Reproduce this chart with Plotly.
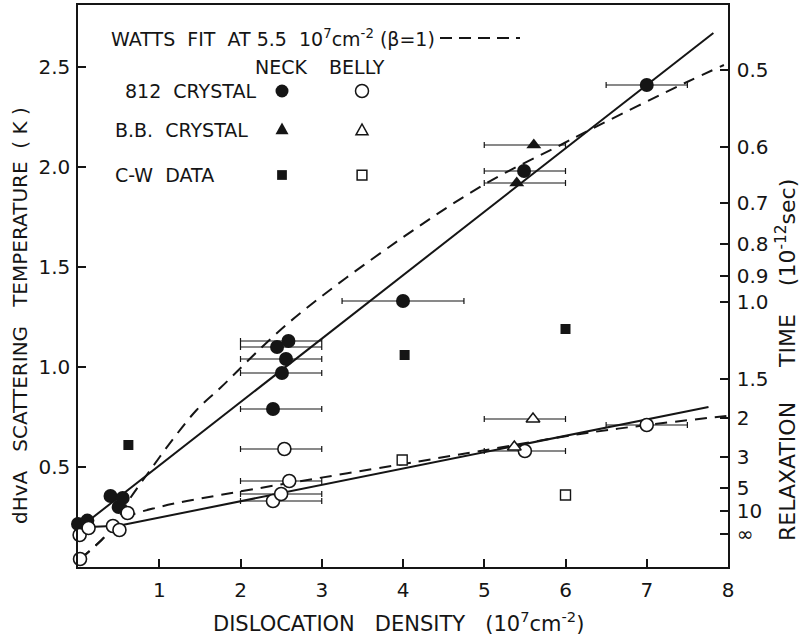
import plotly.graph_objects as go

# ---------------- data ----------------
# 812 crystal, neck (filled circles)
neck812_x = [-0.06, 0.0, 0.115, 0.40, 0.50, 0.55, 2.40, 2.51, 2.56, 2.45, 2.59, 4.0, 5.49, 7.0]
neck812_T = [0.143, 0.215, 0.232, 0.355, 0.30, 0.345, 0.79, 0.97, 1.04, 1.10, 1.13, 1.33, 1.98, 2.41]
neck812_lo = [None, None, None, None, None, None, 2.0, 2.0, 2.0, 2.0, 2.0, 3.25, 5.0, 6.5]
neck812_hi = [None, None, None, None, None, None, 3.0, 3.0, 3.0, 3.0, 3.0, 4.75, 6.0, 7.5]

# 812 crystal, belly (open circles)
belly812_x = [0.025, 0.02, 0.13, 0.43, 0.51, 0.61, 2.40, 2.50, 2.60, 2.54, 5.50, 7.0]
belly812_T = [0.04, 0.16, 0.195, 0.205, 0.185, 0.27, 0.33, 0.365, 0.43, 0.59, 0.58, 0.71]
belly812_lo = [None, None, None, None, None, None, 2.0, 2.0, 2.0, 2.0, 5.0, 6.5]
belly812_hi = [None, None, None, None, None, None, 3.0, 3.0, 3.0, 3.0, 6.0, 7.5]

# B.B. crystal
neckBB_x = [5.40, 5.61]
neckBB_T = [1.92, 2.11]
neckBB_lo = [5.0, 5.0]
neckBB_hi = [6.0, 6.0]
bellyBB_x = [5.37, 5.60]
bellyBB_T = [0.60, 0.74]
bellyBB_lo = [None, 5.0]
bellyBB_hi = [None, 6.0]

# C-W data
neckCW_x = [0.62, 4.02, 6.0]
neckCW_T = [0.61, 1.06, 1.19]
bellyCW_x = [3.99, 6.0]
bellyCW_T = [0.535, 0.36]

# straight-line fits (solid)
fit_neck_x = [0.0, 7.82]
fit_neck_T = [0.19, 2.67]
fit_belly_x = [0.13, 0.5, 7.76]
fit_belly_T = [0.20, 0.206, 0.80]

# Watts fits (dashed)
watts_neck_x = [0.03, 0.29, 0.45, 0.62, 0.89, 1.17, 1.46, 1.75, 2.61, 3.97, 5.03, 5.94, 6.27, 7.47, 7.95]
watts_neck_T = [0.04, 0.135, 0.21, 0.33, 0.485, 0.64, 0.785, 0.895, 1.227, 1.64, 1.92, 2.11, 2.18, 2.42, 2.51]
watts_belly_x = [0.03, 0.29, 0.45, 0.6, 1.0, 1.34, 1.75, 2.6, 3.93, 4.95, 6.18, 7.0, 7.98]
watts_belly_T = [0.04, 0.135, 0.20, 0.25, 0.30, 0.33, 0.36, 0.42, 0.51, 0.58, 0.665, 0.71, 0.755]

# axes
x_ticks = [1, 2, 3, 4, 5, 6, 7, 8]
T_ticks = [0.5, 1.0, 1.5, 2.0, 2.5]
T_tick_text = ["0.5", "1.0", "1.5", "2.0", "2.5"]
tau_ticks = [0.5, 0.6, 0.7, 0.8, 0.9, 1.0, 1.5, 2, 3, 5, 10, float("inf")]
tau_tick_text = ["0.5", "0.6", "0.7", "0.8", "0.9", "1.0", "1.5", "2", "3", "5", "10", "∞"]
T_residual = 0.165   # K, temperature at infinite relaxation time
T_tau_const = 1.16   # K * 1e-12 s

# ---------------- figure ----------------
INK = "#151515"
FONT = "DejaVu Sans"
W, H = 802, 639
L, R, TOP, B = 78, 74, 5, 72
PW, PH = W - L - R, H - TOP - B


def px(xp):
    return (xp - L) / PW


def py(yp):
    return (H - B - yp) / PH


def bars(xs, lo, hi):
    plus = [(h - x) if h is not None else 0 for x, h in zip(xs, hi)]
    minus = [(x - l) if l is not None else 0 for x, l in zip(xs, lo)]
    return dict(type="data", symmetric=False, array=plus, arrayminus=minus,
                thickness=1.2, width=3, color=INK)


fig = go.Figure()

line_kw = dict(mode="lines", hoverinfo="skip", showlegend=False)
fig.add_trace(go.Scatter(x=fit_neck_x, y=fit_neck_T, line=dict(color=INK, width=2), **line_kw))
fig.add_trace(go.Scatter(x=fit_belly_x, y=fit_belly_T, line=dict(color=INK, width=2), **line_kw))
fig.add_trace(go.Scatter(x=watts_neck_x, y=watts_neck_T, line=dict(color=INK, width=2, dash="12px,8px", shape="spline"), **line_kw))
fig.add_trace(go.Scatter(x=watts_belly_x, y=watts_belly_T, line=dict(color=INK, width=2, dash="12px,8px", shape="spline"), **line_kw))

pt_kw = dict(mode="markers", showlegend=False, cliponaxis=False)
fig.add_trace(go.Scatter(x=neck812_x, y=neck812_T, error_x=bars(neck812_x, neck812_lo, neck812_hi),
                         marker=dict(symbol="circle", size=14, color=INK, line=dict(width=0)), **pt_kw))
fig.add_trace(go.Scatter(x=belly812_x, y=belly812_T, error_x=bars(belly812_x, belly812_lo, belly812_hi),
                         marker=dict(symbol="circle", size=13, color="white", line=dict(width=1.6, color=INK)), **pt_kw))
fig.add_trace(go.Scatter(x=neckBB_x, y=neckBB_T, error_x=bars(neckBB_x, neckBB_lo, neckBB_hi),
                         marker=dict(symbol="triangle-up", size=13, color=INK, line=dict(width=0)), **pt_kw))
fig.add_trace(go.Scatter(x=bellyBB_x, y=bellyBB_T, error_x=bars(bellyBB_x, bellyBB_lo, bellyBB_hi),
                         marker=dict(symbol="triangle-up", size=12, color="white", line=dict(width=1.5, color=INK)), **pt_kw))
fig.add_trace(go.Scatter(x=neckCW_x, y=neckCW_T,
                         marker=dict(symbol="square", size=10, color=INK, line=dict(width=0)), **pt_kw))
fig.add_trace(go.Scatter(x=bellyCW_x, y=bellyCW_T,
                         marker=dict(symbol="square", size=10, color="white", line=dict(width=1.4, color=INK)), **pt_kw))
# anchor trace for the right-hand axis
fig.add_trace(go.Scatter(x=[0], y=[0], yaxis="y2", mode="markers", marker=dict(opacity=0),
                         hoverinfo="skip", showlegend=False))

tau_vals = [T_residual + (0 if t == float("inf") else T_tau_const / t) for t in tau_ticks]

axis_common = dict(showline=True, linecolor=INK, linewidth=1.5, ticks="inside", ticklen=8,
                   tickwidth=1.5, tickcolor=INK, showgrid=False, zeroline=False,
                   tickfont=dict(family=FONT, size=20, color=INK))

fig.update_layout(
    width=W, height=H,
    margin=dict(l=L, r=R, t=TOP, b=B, autoexpand=False),
    paper_bgcolor="white", plot_bgcolor="white",
    xaxis=dict(range=[0, 8], tickvals=x_ticks, ticktext=[str(v) for v in x_ticks],
               mirror=True, ticklabelstandoff=4, **axis_common),
    yaxis=dict(range=[0, 2.81], tickvals=T_ticks, ticktext=T_tick_text, ticklabelstandoff=2,
               **axis_common),
    yaxis2=dict(range=[0, 2.81], overlaying="y", side="right", tickvals=tau_vals,
                ticktext=tau_tick_text, ticklabelstandoff=3, **axis_common),
)

nb = "\u00a0"
ann = []


def text(s, x, y, size=19, xanchor="left", angle=0):
    ann.append(dict(text=s, x=x, y=y, xref="paper", yref="paper", xanchor=xanchor,
                    yanchor="middle", showarrow=False, textangle=angle,
                    font=dict(family=FONT, size=size, color=INK)))


# axis titles
text(f"dHvA{nb*3}SCATTERING{nb*3}TEMPERATURE{nb*2}({nb}K{nb})", px(20), py(316), size=20,
     xanchor="center", angle=-90)
text(f"DISLOCATION{nb*3}DENSITY{nb*3}(10<sup>7</sup>cm<sup>-2</sup>)", px(398), py(622), size=21,
     xanchor="center")
text(f"RELAXATION{nb*5}TIME{nb*4}(10<sup>-12</sup>sec)", px(786), py(360), size=22,
     xanchor="center", angle=-90)

# key
text(f"WATTS{nb*2}FIT{nb*2}AT{nb}5.5{nb*2}10<sup>7</sup>cm<sup>-2</sup>{nb}(β=1)", px(109), py(38))
text("NECK", px(281), py(67), xanchor="center")
text("BELLY", px(357), py(67), xanchor="center")
text(f"812{nb*2}CRYSTAL", px(123), py(91))
text(f"B.B.{nb*2}CRYSTAL", px(113), py(130))
text(f"C-W{nb*2}DATA", px(113), py(175))
fig.update_layout(annotations=ann)

shapes = [dict(type="line", xref="paper", yref="paper", x0=px(440), x1=px(520), y0=py(38), y1=py(38),
               line=dict(color=INK, width=2, dash="12px,7px"))]


def glyph(kind, filled, xp, yp, r=6.5):
    common = dict(xref="paper", yref="paper", xsizemode="pixel", ysizemode="pixel",
                  xanchor=px(xp), yanchor=py(yp),
                  fillcolor=INK if filled else "white",
                  line=dict(color=INK, width=0 if filled else 1.5))
    if kind == "circle":
        shapes.append(dict(type="circle", x0=-r, x1=r, y0=-r, y1=r, **common))
    elif kind == "square":
        s = r * 0.75
        shapes.append(dict(type="rect", x0=-s, x1=s, y0=-s, y1=s, **common))
    else:
        shapes.append(dict(type="path", path=f"M {-r} {-r*0.8} L {r} {-r*0.8} L 0 {r*1.0} Z", **common))


glyph("circle", True, 282, 91)
glyph("circle", False, 362, 91)
glyph("tri", True, 282, 129)
glyph("tri", False, 362, 130, r=6)
glyph("square", True, 282, 175)
glyph("square", False, 362, 175)
fig.update_layout(shapes=shapes)

fig.write_html("out.html", config={"displayModeBar": False},
               post_script="document.body.style.margin='0';document.body.style.padding='0';")
